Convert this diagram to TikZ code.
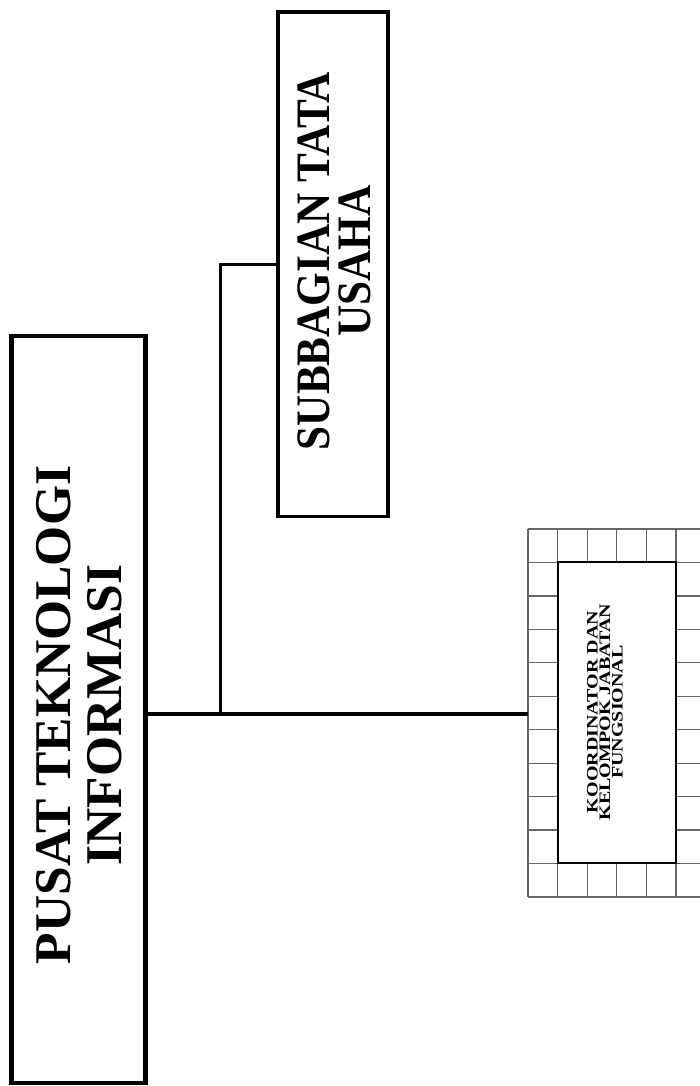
\documentclass[tikz,border=0pt]{standalone}
\usepackage{fontspec}
\setmainfont{Liberation Serif}
\newfontfamily\narrowserif[FakeStretch=0.9]{Liberation Serif}
\newfontfamily\wideserif[FakeStretch=1.25]{Liberation Serif}
\usetikzlibrary{positioning}

\begin{document}
\begin{tikzpicture}[
    x=1pt, y=-1pt,
    % Plain boxes and lines
    unitbox/.style={rectangle, draw=black, fill=white, inner sep=0pt},
    gridline/.style={black!60, line width=1.2pt},
    link/.style={black, line width=3pt}
]
\useasboundingbox (0,0) rectangle (699,1086);

% Head of the unit
\node[unitbox, line width=4.5pt, minimum width=134pt, minimum height=747pt] (pusat) at (78.5,709.5) {};
\node[rotate=90, align=center, font=\fontsize{51.5}{51}\selectfont\bfseries] (pusatlabel) at (79.5,715) {PUSAT TEKNOLOGI\\INFORMASI};

% Subbagian
\node[unitbox, line width=3.5pt, minimum width=110pt, minimum height=504.5pt] (subbag) at (333,264.25) {};
\node[rotate=90, align=center, font=\fontsize{48}{41}\narrowserif\bfseries] (subbaglabel) at (334.5,261) {SUBBAGIAN TATA\\USAHA};

% Functional group - grid frame
\node[minimum width=178pt, minimum height=368pt, inner sep=0pt] (kgrid) at (617,713) {};
\foreach \i in {0,...,6}
    \draw[gridline] (528+29.6*\i, 529) -- (528+29.6*\i, 897);
\foreach \j in {0,...,11}
    \draw[gridline] (528, 529+33.45*\j) -- (706, 529+33.45*\j);

\node[unitbox, line width=2.2pt, minimum width=118pt, minimum height=301pt] (koord) at (617,712.5) {};
\node[rotate=90, align=center, font=\fontsize{16}{12.5}\wideserif\bfseries] (koordlabel) at (605,712) {KOORDINATOR DAN\\KELOMPOK JABATAN\\FUNGSIONAL};

% Connections
\coordinate (branch) at (220,714);
\draw[link, line width=4pt] (branch -| pusat.east) -- (branch -| kgrid.west);
\draw[link] (branch) |- (subbag.west);

\end{tikzpicture}
\end{document}
